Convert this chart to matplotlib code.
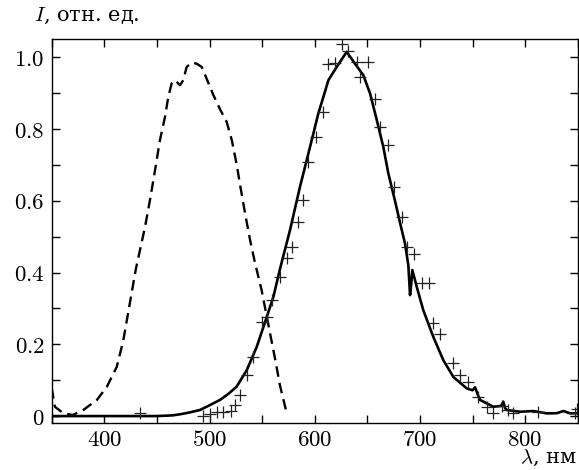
import numpy as np
import matplotlib
matplotlib.use("Agg")
import matplotlib.pyplot as plt
from matplotlib.ticker import MultipleLocator, FuncFormatter

plt.rcParams['mathtext.fontset'] = 'cm'
plt.rcParams['font.family'] = ['DejaVu Serif', 'Liberation Serif']

# сплошная кривая (спектр)
wl_solid = [350, 400, 450, 465, 472, 481, 491, 500, 510, 518, 525.8, 535.4, 544.9,
            552.8, 560.7, 567, 576.5, 586, 594, 598.7, 603.4, 608.2, 613, 620.9,
            630.4, 638.3, 646.2, 652.6, 659, 665.2, 670, 676.3, 681, 685.8, 689,
            690.6, 691.5, 692.8, 697, 703.2, 712.7, 722.2, 731.8, 744.5, 750,
            752.4, 755, 757.1, 769.8, 777, 779.3, 781, 782.5, 795.2, 807.8,
            820.6, 830, 836.4, 842.7, 850]
I_solid = [0, 0, 0, 0.002, 0.005, 0.01, 0.017, 0.03, 0.045, 0.062, 0.082, 0.128, 0.193,
           0.262, 0.332, 0.41, 0.518, 0.639, 0.732, 0.787, 0.843, 0.889, 0.936, 0.973,
           1.015, 0.982, 0.95, 0.899, 0.825, 0.75, 0.676, 0.6, 0.54, 0.481, 0.42,
           0.337, 0.36, 0.407, 0.36, 0.295, 0.221, 0.156, 0.109, 0.077, 0.072,
           0.08, 0.06, 0.045, 0.026, 0.028, 0.04, 0.022, 0.017, 0.012, 0.014,
           0.0075, 0.008, 0.014, 0.0075, 0.008]

# штриховая кривая
wl_dash = [350, 353, 361, 370, 380, 393, 402.5, 411.8, 418, 424, 430, 438.7, 443.4,
           448.2, 452.9, 457.7, 460.8, 464, 467.2, 471.9, 475, 478.3, 483.1, 487.8,
           492.6, 497.3, 503.6, 510, 516.3, 521.1, 525.9, 529, 533.8, 538.6, 543,
           549.6, 555.9, 562.3, 567, 573.4]
I_dash = [0.078, 0.026, 0.008, 0.003, 0.017, 0.045, 0.082, 0.137, 0.21, 0.31, 0.41, 0.527, 0.602,
          0.685, 0.769, 0.834, 0.889, 0.927, 0.936, 0.922, 0.936, 0.973, 0.985, 0.982,
          0.973, 0.94, 0.895, 0.855, 0.82, 0.77, 0.70, 0.645, 0.565, 0.49, 0.43,
          0.35, 0.255, 0.16, 0.085, 0.008]

# точки (+)
wl_pts = [434, 494, 500, 507, 513, 520, 524, 529, 535.5, 541.7, 549.6, 555, 559.1, 567,
          574, 578, 584.4, 589.2, 594, 601.2, 607.6, 613, 619.3, 625.7, 631.9, 639.9,
          643.1, 651, 657.3, 662.1, 670, 675.4, 683, 688, 694.4, 701.7, 708.9, 712.7,
          719.1, 731.7, 738.1, 746, 755.5, 763.5, 769.8, 777.8, 784, 788.8, 812.5,
          847.4, 849]
I_pts = [0.008, 0.0, 0.005, 0.01, 0.01, 0.015, 0.03, 0.058, 0.114, 0.165, 0.263, 0.277, 0.323, 0.388,
         0.44, 0.47, 0.541, 0.602, 0.708, 0.778, 0.848, 0.982, 0.985, 1.036, 1.018, 0.987,
         0.945, 0.987, 0.885, 0.806, 0.755, 0.639, 0.555, 0.472, 0.453, 0.37, 0.371, 0.258,
         0.23, 0.147, 0.114, 0.096, 0.054, 0.026, 0.0075, 0.028, 0.017, 0.0075, 0.012,
         0.008, 0.021]

fig = plt.figure(figsize=(5.79, 4.70), dpi=100)
ax = fig.add_axes([0.0893, 0.101, 0.9085, 0.8154])

ax.plot(wl_dash, I_dash, color='black', lw=1.7, ls=(0, (4.5, 2.6)))
ax.plot(wl_solid, I_solid, color='black', lw=1.9)
ax.plot(wl_pts, I_pts, ls='none', marker='+', ms=9, mew=0.9, color='#222222')

ax.set_xlim(350, 850)
ax.set_ylim(-0.018, 1.05)

ax.xaxis.set_major_locator(MultipleLocator(100))
ax.xaxis.set_minor_locator(MultipleLocator(50))
ax.yaxis.set_major_locator(MultipleLocator(0.2))
ax.yaxis.set_minor_locator(MultipleLocator(0.1))
ax.xaxis.set_major_formatter(FuncFormatter(lambda v, p: r'$%d$' % round(v)))
ax.yaxis.set_major_formatter(FuncFormatter(lambda v, p: r'$0$' if abs(v) < 1e-9 else r'$%.1f$' % v))
ax.tick_params(which='both', direction='in', top=True, right=True, length=6, width=1)
ax.tick_params(which='major', labelsize=16.5, pad=5)
for s in ax.spines.values():
    s.set_linewidth(1)

fig.text(0.058, 0.966, r'$I$, отн. ед.', fontsize=15, ha='left', va='center')
fig.text(0.997, 0.025, r'$\lambda$, нм', fontsize=15, ha='right', va='center')

fig.savefig('out.png', dpi=100)
